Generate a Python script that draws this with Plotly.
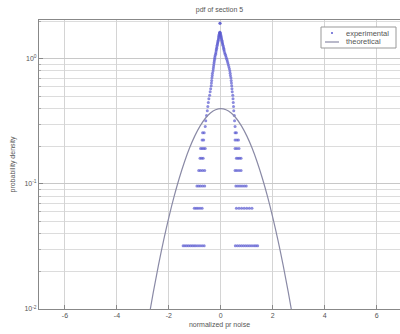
import plotly.graph_objects as go

# ---- data ----
# theoretical pdf (standard normal)
theo_x = [-3.0, -2.8, -2.6, -2.4, -2.2, -2.0, -1.8, -1.6, -1.4, -1.2, -1.0, -0.8, -0.6, -0.4, -0.2, 0.0,
          0.2, 0.4, 0.6, 0.8, 1.0, 1.2, 1.4, 1.6, 1.8, 2.0, 2.2, 2.4, 2.6, 2.8, 3.0]
theo_y = [0.0044, 0.0079, 0.0136, 0.0224, 0.0355, 0.0540, 0.0790, 0.1109, 0.1497, 0.1942, 0.2420, 0.2897,
          0.3332, 0.3683, 0.3910, 0.3989, 0.3910, 0.3683, 0.3332, 0.2897, 0.2420, 0.1942, 0.1497, 0.1109,
          0.0790, 0.0540, 0.0355, 0.0224, 0.0136, 0.0079, 0.0044]

# experimental points: low discrete levels with horizontal clusters
low_levels = [0.032, 0.064, 0.096, 0.128, 0.160, 0.192, 0.224, 0.256]
low_x = [
    [-1.45, -1.38, -1.31, -1.24, -1.17, -1.10, -1.03, -0.96, -0.88, -0.80, -0.72, -0.64,
     0.56, 0.64, 0.72, 0.80, 0.88, 0.96, 1.04, 1.12, 1.20, 1.28, 1.35, 1.42],
    [-1.02, -0.95, -0.88, -0.80, -0.72, 0.60, 0.70, 0.80, 0.90, 1.00, 1.10, 1.20],
    [-0.92, -0.85, -0.78, -0.70, -0.62, 0.58, 0.66, 0.74, 0.82, 0.90, 0.98],
    [-0.85, -0.78, -0.70, -0.62, 0.55, 0.62, 0.70, 0.78],
    [-0.80, -0.74, -0.68, 0.60, 0.66, 0.72, 0.78],
    [-0.78, -0.72, -0.66, -0.60, 0.55, 0.62, 0.70],
    [-0.72, -0.66, 0.55, 0.62, 0.68],
    [-0.70, -0.64, 0.55, 0.60],
]
# experimental points: upper branches (one left, one right point per level)
up_levels = [0.288, 0.320, 0.352, 0.384, 0.416, 0.448, 0.480, 0.512, 0.544, 0.576, 0.608, 0.640,
             0.672, 0.704, 0.736, 0.768, 0.800, 0.832, 0.864, 0.896, 0.928, 0.960, 0.992, 1.024,
             1.056, 1.088, 1.120, 1.152, 1.184, 1.216, 1.248, 1.280, 1.312, 1.344, 1.376, 1.408,
             1.440, 1.472, 1.504, 1.536, 1.568, 1.600, 1.632, 1.920]
up_left = [-0.60, -0.58, -0.55, -0.52, -0.50, -0.48, -0.46, -0.43, -0.41, -0.39, -0.37, -0.36,
           -0.35, -0.34, -0.33, -0.32, -0.30, -0.29, -0.28, -0.27, -0.26, -0.25, -0.24, -0.23,
           -0.22, -0.20, -0.19, -0.18, -0.17, -0.16, -0.15, -0.14, -0.13, -0.12, -0.11, -0.10,
           -0.09, -0.08, -0.08, -0.07, -0.06, -0.05, -0.04, -0.03]
up_right = [0.55, 0.53, 0.52, 0.50, 0.49, 0.48, 0.47, 0.46, 0.44, 0.43, 0.42, 0.41,
            0.40, 0.39, 0.37, 0.36, 0.35, 0.33, 0.31, 0.29, 0.27, 0.25, 0.23, 0.21,
            0.19, 0.17, 0.15, 0.13, 0.12, 0.11, 0.10, 0.08, 0.07, 0.06, 0.05, 0.04,
            0.03, 0.02, 0.01, 0.00, -0.01, -0.02, -0.03, -0.03]

title_text = "pdf of section 5"
x_label = "normalized pr noise"
y_label = "probability density"
legend_names = ["experimental", "theoretical"]
x_ticks = [-6, -4, -2, 0, 2, 4, 6]
y_major = [0.01, 0.1, 1]
y_major_text = ["10<sup>-2</sup>", "10<sup>-1</sup>", "10<sup>0</sup>"]
y_minor = [0.02, 0.03, 0.04, 0.05, 0.06, 0.07, 0.08, 0.09,
           0.2, 0.3, 0.4, 0.5, 0.6, 0.7, 0.8, 0.9, 2]

# ---- assemble experimental series ----
exp_x, exp_y = [], []
for lv, xs in zip(low_levels, low_x):
    for xv in xs:
        exp_x.append(xv)
        exp_y.append(lv)
for lv, xl, xr in zip(up_levels, up_left, up_right):
    exp_x += [xl, xr]
    exp_y += [lv, lv]

FONT = "Liberation Sans"
TXT = "#555555"
GRID = "#d4d4d4"
EXP_COLOR = "#5a5ad0"
THEO_COLOR = "#8a8aa6"

fig = go.Figure()
fig.add_trace(go.Scatter(
    x=exp_x, y=exp_y, mode="markers", name=legend_names[0],
    marker=dict(color=EXP_COLOR, size=3, symbol="circle", line=dict(width=0), opacity=0.7),
))
fig.add_trace(go.Scatter(
    x=theo_x, y=theo_y, mode="lines", name=legend_names[1],
    line=dict(color=THEO_COLOR, width=1.2, shape="spline"),
))

# compact MATLAB-style legend box (paper coordinates)
W, H, L, T, B = 400, 334, 39, 20, 25
pw, ph = W - L, H - T - B
def px(x):
    return (x - L) / pw
def py(y):
    return (H - B - y) / ph

shapes = [
    dict(type="rect", xref="paper", yref="paper", x0=px(321), x1=px(396), y0=py(48), y1=py(27),
         line=dict(color="#999999", width=1), fillcolor="white", layer="above"),
    dict(type="line", xref="paper", yref="paper", x0=px(325), x1=px(339), y0=py(42), y1=py(42),
         line=dict(color=THEO_COLOR, width=1.2), layer="above"),
    dict(type="circle", xref="paper", yref="paper", x0=px(331), x1=px(333), y0=py(34), y1=py(32),
         line=dict(color=EXP_COLOR, width=0), fillcolor=EXP_COLOR, layer="above"),
]
annotations = [
    dict(text=legend_names[0], xref="paper", yref="paper", x=px(344), y=py(33), xanchor="left",
         yanchor="middle", showarrow=False, font=dict(size=7.5, color=TXT)),
    dict(text=legend_names[1], xref="paper", yref="paper", x=px(344), y=py(42), xanchor="left",
         yanchor="middle", showarrow=False, font=dict(size=7.5, color=TXT)),
]

fig.update_layout(
    width=W, height=H,
    margin=dict(l=L, r=0, t=T, b=B, autoexpand=False),
    paper_bgcolor="white", plot_bgcolor="white",
    font=dict(family=FONT, size=7, color=TXT),
    title=dict(text=title_text, x=0.5, xref="paper", y=1 - 10 / 334, yref="container",
               yanchor="middle", font=dict(size=7, color=TXT)),
    showlegend=False,
    shapes=shapes,
    annotations=annotations,
)
fig.update_xaxes(
    range=[-7, 6.9], tickvals=x_ticks, ticktext=[str(v) for v in x_ticks],
    showgrid=True, gridcolor=GRID, gridwidth=1, zeroline=False,
    showline=True, linecolor="#888888", linewidth=1, mirror=True,
    ticks="inside", ticklen=4, tickcolor="#888888",
    title=dict(text=x_label, standoff=3, font=dict(size=7, color=TXT)),
    automargin=False,
)
fig.update_yaxes(
    type="log", range=[-2, 0.31],
    tickvals=y_major, ticktext=y_major_text,
    showgrid=True, gridcolor="#c8c8c8", gridwidth=1, zeroline=False,
    showline=True, linecolor="#888888", linewidth=1, mirror=False,
    ticks="inside", ticklen=4, tickcolor="#888888",
    minor=dict(tickvals=y_minor, showgrid=True, gridcolor="#dcdcdc", ticks="inside", ticklen=2,
               tickcolor="#aaaaaa"),
    title=dict(text=y_label, standoff=7, font=dict(size=7, color=TXT)),
    automargin=False,
)

fig.write_html("out.html")
